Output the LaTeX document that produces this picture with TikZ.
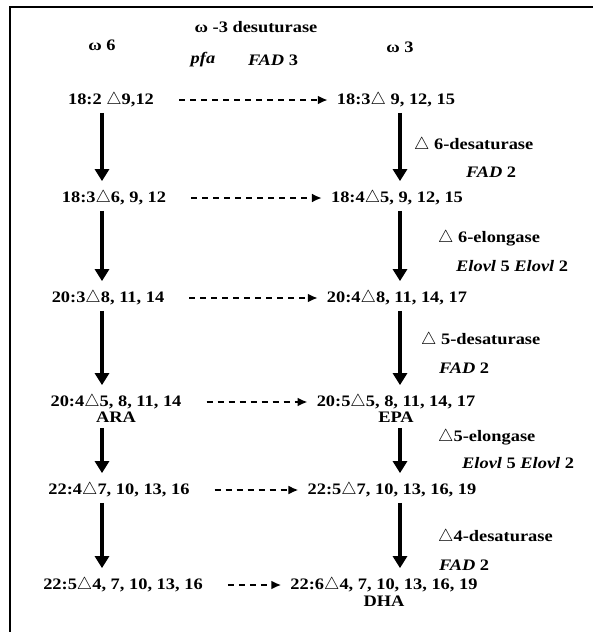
\documentclass[tikz,border=0pt]{standalone}
\usepackage{fontspec}
\setmainfont{Liberation Serif}[FakeStretch=1.15]
\usetikzlibrary{arrows.meta,positioning}

\begin{document}
\begin{tikzpicture}[x=1pt,y=-1pt,>=Latex]
\tikzstyle{acid}=[inner sep=1pt,font=\fontsize{16}{18}\selectfont\bfseries]
\tikzstyle{enz}=[anchor=west,inner sep=1pt,font=\fontsize{16}{18}\selectfont\bfseries]
\tikzstyle{conv}=[-{Triangle[width=14pt,length=12pt]},line width=3.8pt,shorten <=4pt,shorten >=8pt]
\tikzstyle{desat}=[-{Latex[length=10pt,width=9pt]},line width=2.4pt,dash pattern=on 6pt off 5pt,shorten <=24pt,shorten >=8pt]
\useasboundingbox (0,0) rectangle (593,632);
\draw[line width=2.2pt] (10,632) -- (10,7) -- (593,7);
% header
\node[acid] (w6) at (102,45) {ω 6};
\node[acid] (w3) at (400,47) {ω 3};
\node[acid] (w3des) at (256,27) {ω -3 desuturase};
\node[acid] (pfa) at (203,60) {\itshape pfa};
\node[acid] (fad3) at (273,60) {\textit{FAD} 3};
% omega-6 column
\node[acid] (l1) at (111,100) {18:2 $\triangle$9,12};
\node[acid] (l2) at (114,198) {18:3$\triangle$6, 9, 12};
\node[acid] (l3) at (108,298) {20:3$\triangle$8, 11, 14};
\node[acid] (l4) at (116,402) {20:4$\triangle$5, 8, 11, 14};
\node[acid,below=0pt of l4] (ara) {ARA};
\node[acid] (l5) at (119,490) {22:4$\triangle$7, 10, 13, 16};
\node[acid] (l6) at (123,585) {22:5$\triangle$4, 7, 10, 13, 16};
% omega-3 column
\node[acid] (r1) at (396,100) {18:3$\triangle$ 9, 12, 15};
\node[acid] (r2) at (397,198) {18:4$\triangle$5, 9, 12, 15};
\node[acid] (r3) at (397,298) {20:4$\triangle$8, 11, 14, 17};
\node[acid] (r4) at (396,402) {20:5$\triangle$5, 8, 11, 14, 17};
\node[acid,below=0pt of r4] (epa) {EPA};
\node[acid] (r5) at (392,490) {22:5$\triangle$7, 10, 13, 16, 19};
\node[acid] (r6) at (384,585) {22:6$\triangle$4, 7, 10, 13, 16, 19};
\node[acid,below=1pt of r6] (dha) {DHA};
% enzymes
\node[enz] (d6) at (413,145) {$\triangle$ 6-desaturase};
\node[enz] (fad2a) at (465,172) {\textit{FAD} 2};
\node[enz] (e6) at (437,238) {$\triangle$ 6-elongase};
\node[enz] (elo1) at (455,266) {\textit{Elovl} 5 \textit{Elovl} 2};
\node[enz] (d5) at (420,340) {$\triangle$ 5-desaturase};
\node[enz] (fad2b) at (438,368) {\textit{FAD} 2};
\node[enz] (e5) at (437,437) {$\triangle$5-elongase};
\node[enz] (elo2) at (461,463) {\textit{Elovl} 5 \textit{Elovl} 2};
\node[enz] (d4) at (437,537) {$\triangle$4-desaturase};
\node[enz] (fad2c) at (438,565) {\textit{FAD} 2};
% conversions
\foreach \a/\b in {l1/l2,l2/l3,l3/l4,ara/l5,l5/l6}
  \draw[conv] (\a.south -| w6) -- (\b.north -| w6);
\foreach \a/\b in {r1/r2,r2/r3,r3/r4,epa/r5,r5/r6}
  \draw[conv] (\a.south -| w3) -- (\b.north -| w3);
\foreach \i in {1,...,6}
  \draw[desat] (l\i) -- (r\i);
\end{tikzpicture}
\end{document}
